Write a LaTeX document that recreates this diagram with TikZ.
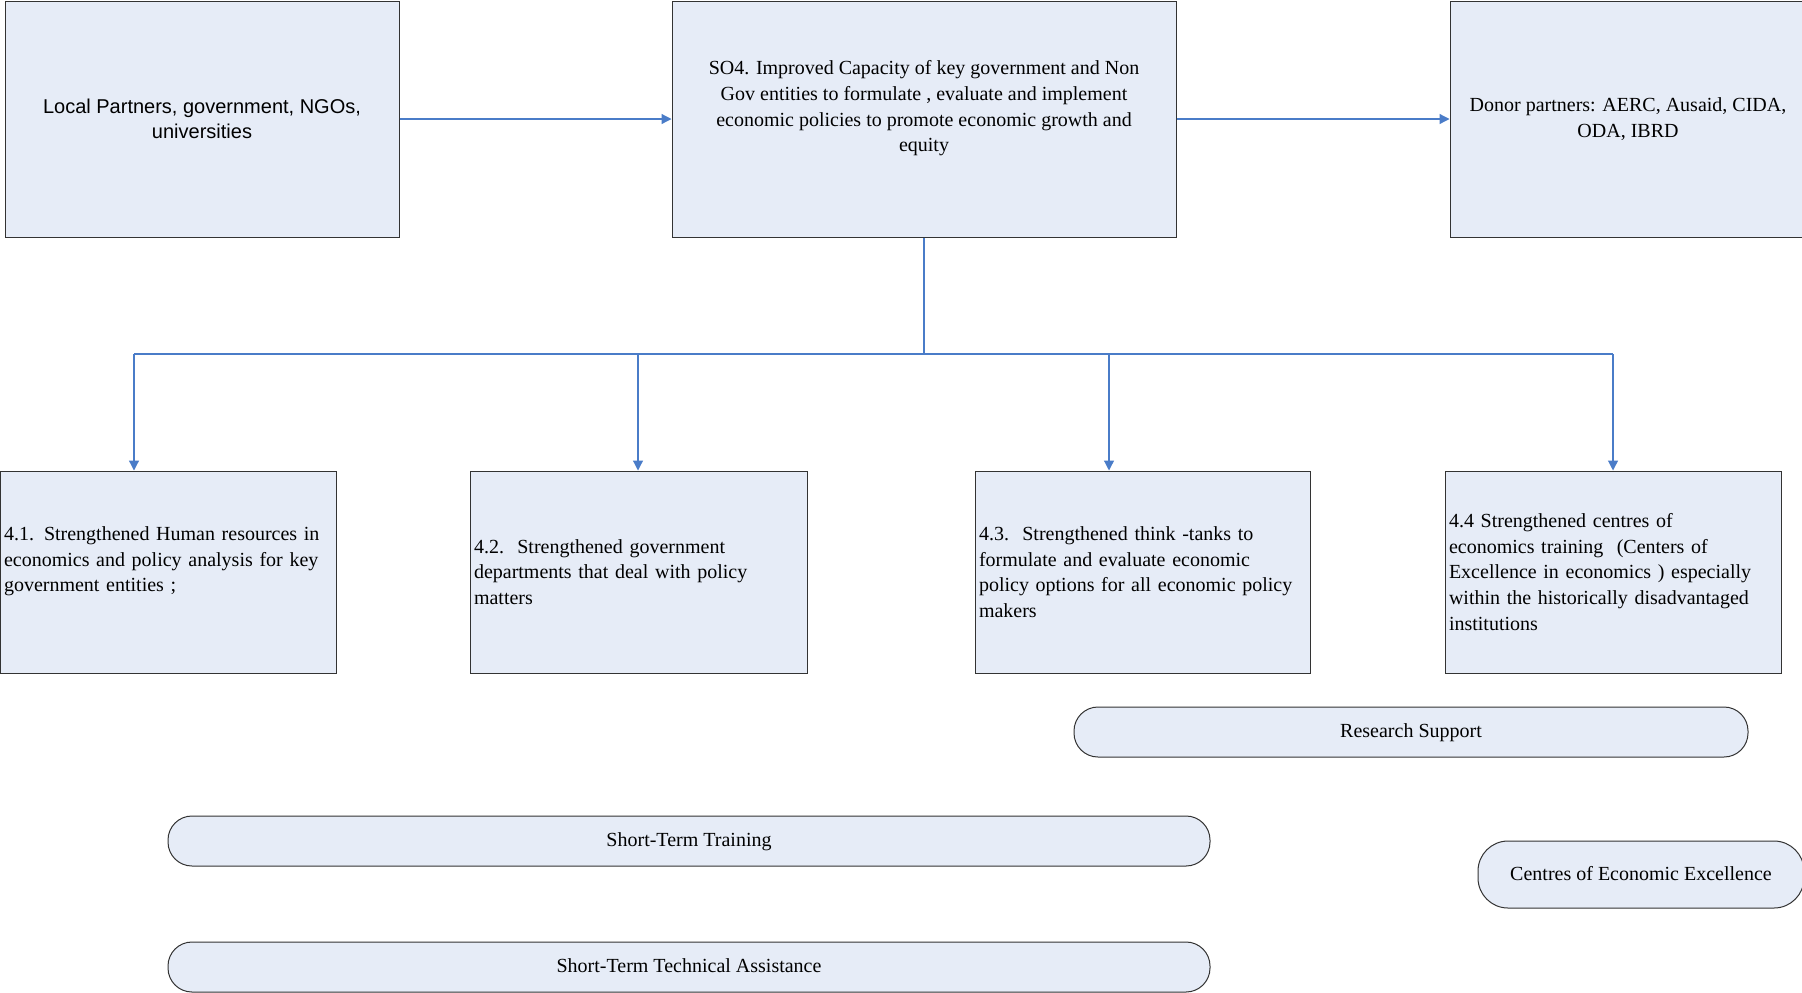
\documentclass[tikz,border=0pt]{standalone}
\usepackage{fontspec}
\setmainfont{Liberation Serif}
\setsansfont{Liberation Sans}
\usepackage{xcolor}
\usepackage{tikz}
\usetikzlibrary{positioning,arrows.meta,calc}
\definecolor{BoxBg}{HTML}{E6ECF7}
\definecolor{BoxLine}{HTML}{333333}
\definecolor{LinkBlue}{HTML}{4A7CC8}

\tikzset{
  box/.style={draw=BoxLine, line width=0.5pt, fill=BoxBg, inner sep=2pt,
              font=\fontsize{10}{12.8}\selectfont},
  leftbox/.style={box, align=left, text width=#1},
  pill/.style={draw=BoxLine, line width=0.5pt, fill=BoxBg, rounded corners=12pt,
               minimum height=25pt, text depth=1pt, font=\fontsize{10}{12.8}\selectfont},
  link/.style={draw=LinkBlue, line width=0.6pt},
  arr/.style={link, -{Triangle[length=5pt,width=5pt]}}
}

\begin{document}
\begin{tikzpicture}[x=0.5pt, y=-0.5pt]
      \useasboundingbox (0,0) rectangle (1802,992);

      % top row
      \node[box, minimum width=197pt, minimum height=118pt, align=center,
            font=\sffamily\fontsize{10}{12.8}\selectfont] (local) at (202,119)
        {Local Partners, government, NGOs,\\ universities};
      \node[box, minimum width=252pt, minimum height=118pt, align=center] (so4) at (924,119)
        {SO4. Improved Capacity of key government and Non\\
         Gov entities to formulate , evaluate and implement\\
         economic policies to promote economic growth and\\
         equity\\ \mbox{}};
      \node[box, minimum width=178pt, minimum height=118pt, align=center] (donor) at (1628,119)
        {Donor partners: AERC, Ausaid, CIDA,\\ ODA, IBRD};

      \draw[arr] (local) -- (so4);
      \draw[arr] (so4) -- (donor);

      % results
      \node[leftbox=164pt, minimum height=101pt] (r41) at (168,572)
        {4.1. Strengthened Human resources in\\
         economics and policy analysis for key\\
         government entities ;\\ \mbox{}};
      \node[leftbox=164.5pt, minimum height=101pt] (r42) at (638.5,572)
        {4.2.\ \ Strengthened government\\
         departments that deal with policy\\
         matters};
      \node[leftbox=163.5pt, minimum height=101pt] (r43) at (1142.5,572)
        {4.3.\ \ Strengthened think -tanks to\\
         formulate and evaluate economic\\
         policy options for all economic policy\\
         makers};
      \node[leftbox=164pt, minimum height=101pt] (r44) at (1613,572)
        {4.4 Strengthened centres\ of\\
         economics training\ \ (Centers of\\
         Excellence in economics\ ) especially\\
         within the historically disadvantaged\\
         institutions};

      \coordinate (bus) at (924,354);
      \coordinate (d41) at (134,354);
      \coordinate (d42) at (638,354);
      \coordinate (d43) at (1109,354);
      \coordinate (d44) at (1613,354);
      \draw[link] (so4) -- (bus);
      \draw[link] (d41) -- (d44);
      \foreach \d/\r in {d41/r41, d42/r42, d43/r43, d44/r44}
        \draw[arr] (\d) -- (\d |- \r.north);

      % activities
      \node[pill, minimum width=337pt] (research) at (1411,732) {Research Support};
      \node[pill, minimum width=521pt] (training) at (689,841) {Short-Term Training};
      \node[pill, minimum width=163pt, minimum height=33.5pt, rounded corners=15pt] (centres) at (1641,874.5)
        {Centres of Economic Excellence};
      \node[pill, minimum width=521pt] (techassist) at (689,967) {Short-Term Technical Assistance};
    \end{tikzpicture}
\end{document}
